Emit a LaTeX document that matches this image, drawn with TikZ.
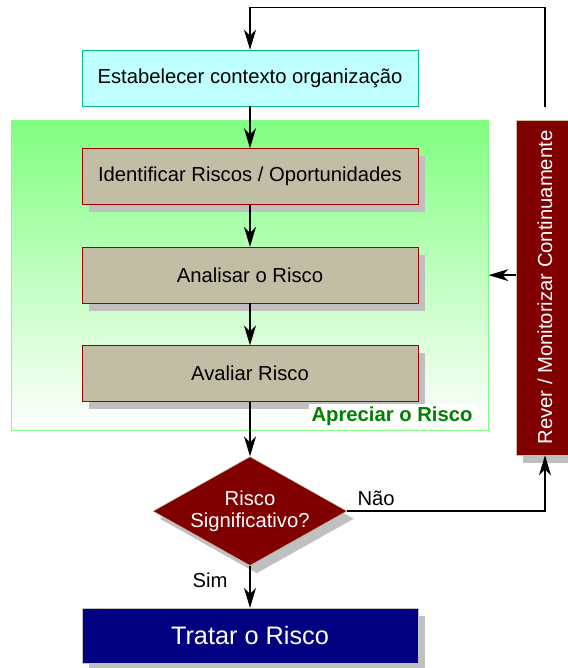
\documentclass[tikz,border=0pt]{standalone}
\usepackage{fontspec}
\setmainfont{Liberation Sans}
\usepackage{xcolor}
\usepackage{tikz}
\usetikzlibrary{shapes,arrows.meta,positioning,calc,fit,shadows,backgrounds}

\definecolor{ctxfill}{RGB}{192,255,255}
\definecolor{ctxline}{RGB}{0,192,128}
\definecolor{stepfill}{RGB}{194,190,166}
\definecolor{stepline}{RGB}{160,0,0}
\definecolor{darkred}{RGB}{128,0,0}
\definecolor{tanline}{RGB}{200,190,160}
\definecolor{navy}{RGB}{0,0,128}
\definecolor{shadowgray}{RGB}{192,192,192}
\definecolor{zonegreen}{RGB}{128,255,128}
\definecolor{labelgreen}{RGB}{0,128,0}

\begin{document}
\begin{tikzpicture}[
            node distance=1.05cm,
            txt/.style={font=\fontsize{14.4}{15.6}\selectfont},
            shade/.style={drop shadow={shadow xshift=0.17cm, shadow yshift=-0.19cm, fill=shadowgray, opacity=1}},
            ctxbox/.style={rectangle, draw=ctxline, fill=ctxfill, minimum width=8.4cm, minimum height=1.4cm, align=center, txt},
            stepbox/.style={rectangle, draw=stepline, fill=stepfill, minimum width=8.4cm, minimum height=1.4cm, align=center, txt, shade},
            decision/.style={diamond, draw=tanline, fill=darkred, text=white, aspect=1.78, inner sep=0pt, minimum width=4.85cm, minimum height=2.725cm, align=center, txt, shade},
            treatbox/.style={rectangle, draw=shadowgray, fill=navy, text=white, minimum width=8.4cm, minimum height=1.375cm, font=\fontsize{18}{20}\selectfont, shade},
            monitor/.style={rectangle, draw=tanline, fill=darkred, text=white, rotate=90, minimum width=8.375cm, minimum height=1.45cm, txt, shade},
            arrow/.style={-{Stealth[length=0.5cm, width=0.3cm, inset=0.15cm]}, line width=1pt}
        ]
            \useasboundingbox (0,0) rectangle (14.2,-16.7);

            % Context
            \node[ctxbox] (ctx) at (6.25,-1.95) {Estabelecer contexto organização};

            % Risk assessment steps
            \node[stepbox, below=of ctx] (ident) {Identificar Riscos / Oportunidades};
            \node[stepbox, below=of ident] (anal) {Analisar o Risco};
            \node[stepbox, below=of anal] (aval) {Avaliar Risco};

            % Zone behind the steps
            \begin{scope}[on background layer]
                \node[fit=(ident)(aval), inner xsep=1.75cm, inner ysep=0.7cm, draw=zonegreen, top color=zonegreen, bottom color=white] (zone) {};
            \end{scope}
            \node[anchor=south east, fill=white, inner sep=2pt, text=labelgreen, font=\fontsize{14.4}{15.6}\selectfont\bfseries] (zonelabel) at ([xshift=-0.325cm, yshift=0.03cm]zone.south east) {Apreciar o Risco};

            % Decision and treatment
            \node[decision, below=1.36cm of aval] (risk) {Risco\\Significativo?};
            \node[treatbox, below=1.05cm of risk] (treat) {Tratar o Risco};

            % Monitoring
            \node[monitor] (rever) at (13.625,-7.1875) {Rever / Monitorizar Continuamente};
            \coordinate[above=0.33cm of rever.east] (loopstart);
            \coordinate[above=1.05cm of ctx.north] (looptop);

            % Arrows
            \draw[arrow] (loopstart) |- (looptop) -- (ctx.north);
            \draw[arrow] (ctx) -- (ident);
            \draw[arrow] (ident) -- (anal);
            \draw[arrow] (anal) -- (aval);
            \draw[arrow] (aval) -- (risk);
            \draw[arrow] (risk) -- node[pos=0.33, left=0.43cm, txt] {Sim} (treat);
            \draw[arrow] (risk.east) -| node[pos=0.073, above, txt] {Não} (rever.west);
            \draw[arrow] (rever.north |- zone.east) -- (zone.east);
        \end{tikzpicture}
\end{document}
